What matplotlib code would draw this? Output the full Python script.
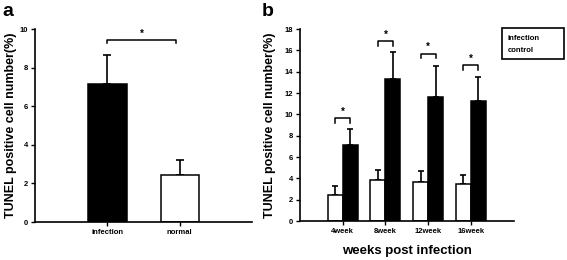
"""
    TUNEL positive cell bar charts (panels a and b)
"""

import numpy as np
import matplotlib.pyplot as plt

plt.rcParams["font.family"] = ["Liberation Sans", "DejaVu Sans"]
plt.rcParams["font.weight"] = "bold"

# Panel a data
groups_a = ["infection", "normal"]
means_a = [7.15, 2.45]
errs_a = [1.5, 0.75]
colors_a = ["black", "white"]

# Panel b data
weeks = ["4week", "8week", "12week", "16week"]
control_mean = [2.45, 3.85, 3.65, 3.45]
control_err = [0.8, 0.95, 1.0, 0.9]
infection_mean = [7.15, 13.3, 11.6, 11.3]
infection_err = [1.5, 2.55, 2.9, 2.2]
star_heights = [9.65, 16.9, 15.7, 14.6]


def style_axis(ax):
    ax.spines["top"].set_visible(False)
    ax.spines["right"].set_visible(False)
    ax.spines["left"].set_linewidth(1.2)
    ax.spines["bottom"].set_linewidth(1.2)
    ax.tick_params(axis="both", direction="out", length=3, width=1, labelsize=5.5,
                   pad=2)
    for lbl in ax.get_xticklabels() + ax.get_yticklabels():
        lbl.set_fontweight("bold")


def bracket(ax, x1, x2, y, drop):
    ax.plot([x1, x1, x2, x2], [y - drop, y, y, y - drop], color="black", lw=1.1)
    ax.text((x1 + x2) / 2, y + drop * 0.3, "*", ha="center", va="bottom",
            fontsize=7, fontweight="bold")


fig = plt.figure(figsize=(5.67, 2.6), dpi=100)

# Panel a
ax_a = fig.add_axes([0.0617, 0.146, 0.383, 0.742])
xa = np.arange(1, len(groups_a) + 1)
ax_a.bar(xa, means_a, width=0.53, color=colors_a, edgecolor="black", linewidth=1.1,
         zorder=2)
ax_a.errorbar(xa, means_a, yerr=[np.zeros(len(errs_a)), errs_a], fmt="none",
              ecolor="black", elinewidth=1.2, capsize=3, capthick=1.2, zorder=1)
ax_a.set_xlim(0, 3)
ax_a.set_ylim(0, 10)
ax_a.set_yticks([0, 2, 4, 6, 8, 10])
ax_a.set_xticks(xa)
ax_a.set_xticklabels(groups_a)
ax_a.set_ylabel("TUNEL positive cell number(%)", fontsize=9, fontweight="bold",
                labelpad=2)
style_axis(ax_a)
bracket(ax_a, 1, 1.95, 9.43, 0.17)
fig.text(0.005, 0.99, "a", fontsize=14, fontweight="bold", va="top")

# Panel b
ax_b = fig.add_axes([0.529, 0.15, 0.377, 0.738])
xb = np.arange(1, len(weeks) + 1)
w = 0.35
ax_b.bar(xb - w / 2, control_mean, width=w, color="white", edgecolor="black",
         linewidth=1.1, zorder=2)
ax_b.bar(xb + w / 2, infection_mean, width=w, color="black", edgecolor="black",
         linewidth=1.1, zorder=2)
ax_b.errorbar(xb - w / 2, control_mean, yerr=[np.zeros(4), control_err], fmt="none",
              ecolor="black", elinewidth=1.2, capsize=2.5, capthick=1.2, zorder=1)
ax_b.errorbar(xb + w / 2, infection_mean, yerr=[np.zeros(4), infection_err],
              fmt="none", ecolor="black", elinewidth=1.2, capsize=2.5, capthick=1.2,
              zorder=1)
ax_b.set_xlim(0, 5)
ax_b.set_ylim(0, 18)
ax_b.set_yticks(np.arange(0, 19, 2))
ax_b.set_xticks(xb)
ax_b.set_xticklabels(weeks)
ax_b.set_ylabel("TUNEL positive cell number(%)", fontsize=9, fontweight="bold",
                labelpad=6)
ax_b.set_xlabel("weeks post infection", fontsize=9.5, fontweight="bold", labelpad=7)
style_axis(ax_b)
for x, h in zip(xb, star_heights):
    bracket(ax_b, x - w / 2, x + w / 2, h, 0.45)
fig.text(0.462, 0.99, "b", fontsize=14, fontweight="bold", va="top")

# legend box with text only (no handles in the original)
fig.patches.append(plt.Rectangle((502 / 567, 1 - 59 / 260), 62 / 567, 31 / 260,
                                 transform=fig.transFigure, fill=False,
                                 edgecolor="black", linewidth=1.2))
fig.text(508 / 567, 1 - 38 / 260, "infection", fontsize=5.5, fontweight="bold",
         va="center")
fig.text(508 / 567, 1 - 50 / 260, "control", fontsize=5.5, fontweight="bold",
         va="center")

plt.savefig("out.png", dpi=100)
